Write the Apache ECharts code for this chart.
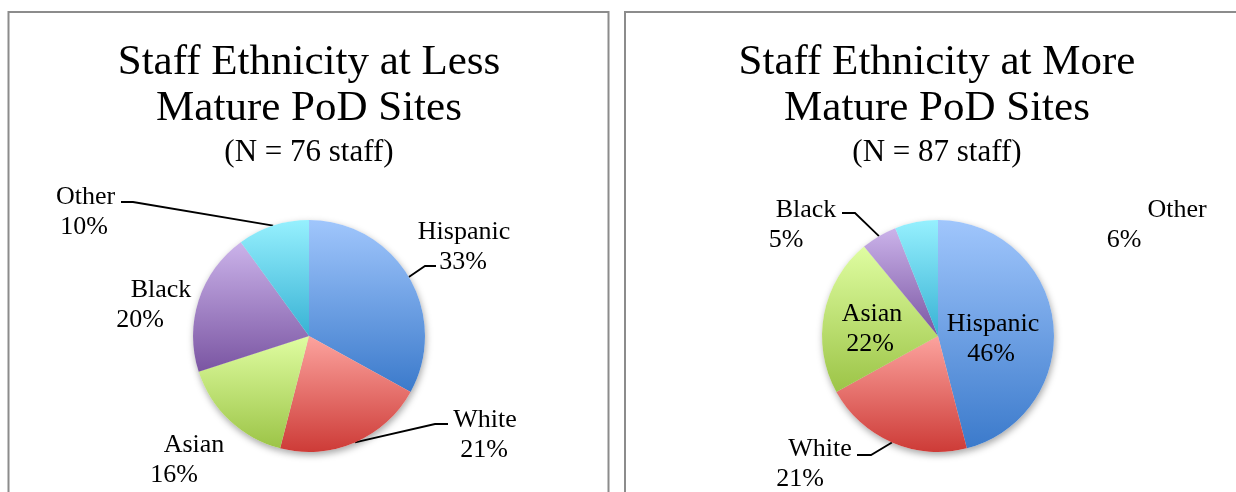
<!DOCTYPE html>
<html>
<head>
<meta charset="utf-8">
<script src="https://cdn.jsdelivr.net/npm/echarts@6/dist/echarts.min.js"></script>
<style>
  html, body { margin: 0; padding: 0; background: #ffffff; }
  #chart { width: 1236px; height: 492px; }
</style>
</head>
<body>
<div id="chart"></div>
<script>
// ---- Data ----
const categories = ['Hispanic', 'White', 'Asian', 'Black', 'Other'];
const lessMatureValues = [33, 21, 16, 20, 10];   // percent of staff (N = 76)
const moreMatureValues = [46, 21, 22, 5, 6];     // percent of staff (N = 87)
const lessTitle = 'Staff Ethnicity at Less\nMature PoD Sites';
const lessSubtitle = '(N = 76 staff)';
const moreTitle = 'Staff Ethnicity at More\nMature PoD Sites';
const moreSubtitle = '(N = 87 staff)';

// ---- Styles / layout ----
const FONT = "'Liberation Serif', 'Times New Roman', serif";
const sliceGradients = {
  Hispanic: ['#a0c6fc', '#3b7acb'],
  White:    ['#fca39e', '#cd3b37'],
  Asian:    ['#dffda1', '#9cc447'],
  Black:    ['#cbb3ea', '#7a55a2'],
  Other:    ['#96f0fe', '#38b2d4']
};
// label placement: x = centre of value line, y = centre of the two-line block,
// shift = horizontal offset of the name line, line = [endX, endY, horizontal length]
const placeLess = {
  Hispanic: { x: 463, y: 247, shift: 1, line: [436, 266, -11] },
  White:    { x: 484, y: 435, shift: 1, line: [448, 424, -13] },
  Asian:    { x: 174, y: 460, shift: 20 },
  Black:    { x: 140, y: 305, shift: 21 },
  Other:    { x: 84,  y: 212, shift: 1.5, line: [121, 202, 12] }
};
const placeMore = {
  Hispanic: { x: 991, y: 339, shift: 2, inside: true },
  White:    { x: 800, y: 464, shift: 20, line: [857, 455, 14] },
  Asian:    { x: 870, y: 329, shift: 2, inside: true },
  Black:    { x: 786, y: 225, shift: 20, line: [842, 213, 13] },
  Other:    { x: 1124, y: 225, shift: 53 }
};

function buildRich(place) {
  const rich = {
    v: { fontFamily: FONT, fontSize: 26, lineHeight: 30, color: '#000' }
  };
  categories.forEach(function (c, i) {
    const s = place[c].shift || 0;
    rich['n' + i] = {
      fontFamily: FONT, fontSize: 26, lineHeight: 30, color: '#000',
      padding: s >= 0 ? [0, 0, 0, 2 * s] : [0, -2 * s, 0, 0]
    };
  });
  return rich;
}

function buildData(values, place) {
  return categories.map(function (c, i) {
    const g = sliceGradients[c];
    const p = place[c];
    return {
      name: c,
      value: values[i],
      itemStyle: {
        color: new echarts.graphic.LinearGradient(0, 0, 0, 1, [
          { offset: 0, color: g[0] },
          { offset: 1, color: g[1] }
        ])
      },
      label: { position: p.inside ? 'inside' : 'outside' },
      labelLine: { show: !!p.line }
    };
  });
}

function buildLabelLayout(place) {
  return function (params) {
    const p = place[categories[params.dataIndex]];
    const out = { x: p.x, y: p.y, align: 'center', verticalAlign: 'middle' };
    if (p.line && params.labelLinePoints) {
      const s = params.labelLinePoints[0];
      out.labelLinePoints = [
        [s[0], s[1]],
        [p.line[0] + p.line[2], p.line[1]],
        [p.line[0], p.line[1]]
      ];
    }
    return out;
  };
}

function pieSeries(values, place, center) {
  return {
    type: 'pie',
    center: center,
    radius: 116,
    startAngle: 90,
    clockwise: true,
    z: 3,
    avoidLabelOverlap: false,
    animation: false,
    data: buildData(values, place),
    itemStyle: { borderWidth: 0 },
    label: {
      show: true,
      color: '#000',
      fontFamily: FONT,
      fontSize: 26,
      lineHeight: 30,
      textBorderWidth: 0,
      textBorderColor: 'transparent',
      formatter: function (params) {
        return '{n' + params.dataIndex + '|' + params.name + '}\n{v|' + Math.round(params.percent) + '%}';
      },
      rich: buildRich(place)
    },
    labelLine: {
      length: 10,
      length2: 10,
      smooth: false,
      lineStyle: { color: '#000', width: 1.8 }
    },
    labelLayout: buildLabelLayout(place),
    emphasis: { disabled: true }
  };
}

function shadowSeries(values, center) {
  return {
    type: 'pie',
    center: center,
    radius: 116,
    startAngle: 90,
    z: 1,
    silent: true,
    animation: false,
    data: categories.map(function (c, i) { return { name: c, value: values[i] }; }),
    itemStyle: {
      color: '#ffffff',
      shadowBlur: 7,
      shadowColor: 'rgba(0,0,0,0.35)',
      shadowOffsetX: 1,
      shadowOffsetY: 3
    },
    label: { show: false },
    labelLine: { show: false },
    emphasis: { disabled: true }
  };
}

function titleBlock(text, sub, left) {
  return {
    text: text,
    subtext: sub,
    left: left,
    top: 39.5,
    textAlign: 'center',
    padding: 0,
    itemGap: 4,
    textStyle: { fontFamily: FONT, fontSize: 43, lineHeight: 46, fontWeight: 'normal', color: '#000' },
    subtextStyle: { fontFamily: FONT, fontSize: 31, lineHeight: 34, color: '#000' }
  };
}

const chart = echarts.init(document.getElementById('chart'), null, { renderer: 'canvas' });
chart.setOption({
  backgroundColor: '#ffffff',
  animation: false,
  title: [
    titleBlock(lessTitle, lessSubtitle, 309),
    titleBlock(moreTitle, moreSubtitle, 937)
  ],
  graphic: [
    { type: 'rect', z: 0, shape: { x: 8.5, y: 12, width: 600, height: 520 },
      style: { fill: 'none', stroke: '#8c8c8c', lineWidth: 2 } },
    { type: 'rect', z: 0, shape: { x: 625, y: 12, width: 700, height: 520 },
      style: { fill: 'none', stroke: '#8c8c8c', lineWidth: 2 } }
  ],
  series: [
    shadowSeries(lessMatureValues, [309, 336]),
    shadowSeries(moreMatureValues, [938, 336]),
    pieSeries(lessMatureValues, placeLess, [309, 336]),
    pieSeries(moreMatureValues, placeMore, [938, 336])
  ]
});
</script>
</body>
</html>
